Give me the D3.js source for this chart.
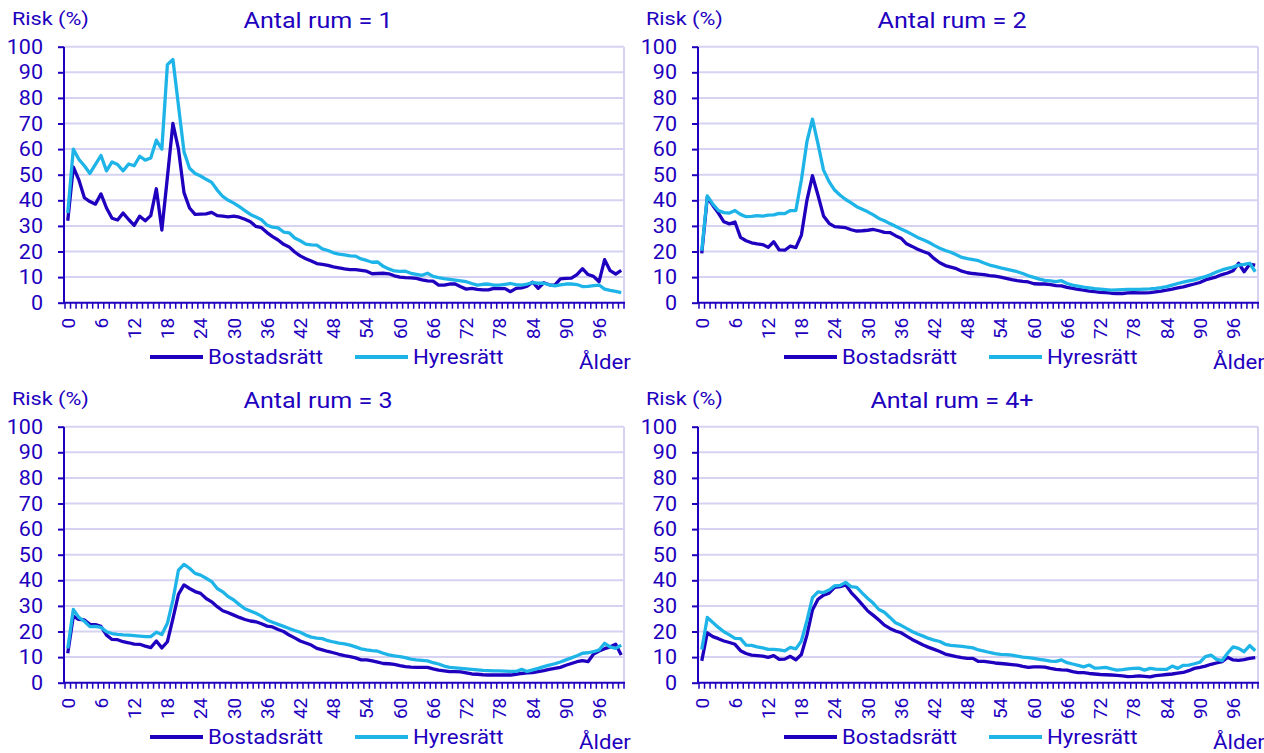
<!DOCTYPE html>
<html>
<head>
<meta charset="utf-8">
<script src="https://cdn.jsdelivr.net/npm/d3@7"></script>
<style>
  body { margin: 0; background: #fff; }
  text { font-family: Roboto, "Noto Sans", sans-serif; fill: #1e00be; }
</style>
</head>
<body>
<div id="chart"></div>
<script>
// ages 0..100
const ages = d3.range(0, 101);
const yTicks = [0, 10, 20, 30, 40, 50, 60, 70, 80, 90, 100];
const xLabels = [0, 6, 12, 18, 24, 30, 36, 42, 48, 54, 60, 66, 72, 78, 84, 90, 96];
const seriesNames = ['Bostadsrätt', 'Hyresrätt'];
const panelTitles = ['Antal rum = 1', 'Antal rum = 2', 'Antal rum = 3', 'Antal rum = 4+'];

const rum1Bostad = [32, 53, 48, 41, 39.5, 38.5, 42.5, 37, 33, 32.3, 35, 32.5, 30.2, 33.8, 32, 34, 44.5, 28.4, 49, 70,
  60, 43, 37, 34.5, 34.6, 34.7, 35.3, 34, 33.8, 33.5, 33.8, 33.4, 32.6, 31.6, 29.8, 29.3, 27.4, 25.8, 24.5, 22.8,
  21.8, 19.8, 18.3, 17.2, 16.3, 15.3, 15, 14.6, 14, 13.6, 13.2, 12.9, 12.9, 12.6, 12.3, 11.3, 11.4, 11.5, 11.3, 10.5,
  10, 9.8, 9.7, 9.5, 8.9, 8.5, 8.4, 6.9, 6.9, 7.3, 7.3, 6.2, 5.3, 5.6, 5.2, 5, 5, 5.6, 5.5, 5.5,
  4.3, 5.6, 5.8, 6.5, 8, 5.6, 7.8, 7, 6.9, 9.3, 9.5, 9.6, 11, 13.3, 11, 10.3, 8.2, 16.8, 12.5, 11.2, 12.6];
const rum1Hyres = [35, 60, 56, 53.5, 50.5, 54, 57.5, 51.5, 55, 54, 51.5, 54.2, 53.5, 57.2, 55.7, 56.5, 63.5, 60, 93, 95,
  77, 59, 52.5, 50.5, 49.5, 48.2, 47, 44, 41.5, 40, 38.9, 37.5, 36, 34.5, 33.5, 32.4, 30.3, 29.5, 29.2, 27.6,
  27.3, 25.3, 24.2, 22.9, 22.6, 22.5, 21, 20.4, 19.5, 19, 18.7, 18.3, 18.2, 17.1, 16.5, 15.8, 15.9, 14.2, 13.2, 12.4,
  12.2, 12.3, 11.5, 11.1, 10.7, 11.5, 10.3, 9.8, 9.4, 9.1, 8.8, 8.5, 8.2, 7.5, 6.9, 7.2, 7.3, 6.9, 6.9, 7.2,
  7.5, 7.1, 6.9, 7.3, 7.8, 7.6, 7.6, 7, 6.6, 7, 7.3, 7.3, 7.1, 6.3, 6.4, 6.7, 6.9, 5.3, 4.8, 4.4, 3.9];

const rum2Bostad = [19.3, 41.2, 38, 35, 31.6, 30.8, 31.5, 25.5, 24.2, 23.4, 23, 22.7, 21.6, 23.8, 20.6, 20.5, 22.1, 21.5, 26.4, 40,
  49.6, 42, 33.9, 31, 29.7, 29.5, 29.3, 28.5, 28, 28.1, 28.3, 28.6, 28.1, 27.5, 27.4, 26.2, 25.2, 23, 22, 20.9,
  20, 19.2, 17.2, 15.6, 14.5, 13.9, 13.3, 12.3, 11.7, 11.4, 11.2, 11, 10.6, 10.4, 10, 9.5, 9, 8.6, 8.3, 8.1,
  7.4, 7.3, 7.3, 7.1, 6.7, 6.6, 6, 5.6, 5.2, 4.9, 4.5, 4.3, 4, 3.9, 3.7, 3.6, 3.6, 3.8, 3.9, 3.8,
  3.8, 3.9, 4.2, 4.5, 4.9, 5.3, 5.8, 6.2, 6.8, 7.3, 7.9, 8.9, 9.5, 10.1, 11, 11.6, 12.5, 15.4, 12.1, 15, 14.7];
const rum2Hyres = [20.3, 41.7, 38.5, 36, 35.2, 35, 36, 34.5, 33.6, 33.7, 34, 33.8, 34.2, 34.3, 34.9, 34.8, 36, 36, 47.9, 62.9,
  71.7, 62, 51.8, 47.3, 44, 42, 40.3, 39, 37.5, 36.5, 35.5, 34.3, 32.9, 32, 30.9, 29.9, 28.8, 27.8, 26.7, 25.5,
  24.6, 23.6, 22.4, 21.3, 20.4, 19.7, 18.7, 17.7, 17.2, 16.8, 16.4, 15.5, 14.7, 14.2, 13.6, 13.1, 12.6, 12.1, 11.4, 10.5,
  9.9, 9.2, 8.7, 8.5, 8.2, 8.6, 7.5, 6.9, 6.5, 6.1, 5.8, 5.5, 5.3, 5.1, 4.9, 5, 5.1, 5.2, 5.2, 5.2,
  5.3, 5.4, 5.6, 5.9, 6.3, 6.9, 7.5, 8, 8.5, 8.9, 9.6, 10.2, 11, 12, 12.8, 13.4, 13.9, 14.7, 15, 15.4, 12.1];

const rum3Bostad = [11.5, 26, 24.7, 24.5, 22.8, 22.7, 22, 18.6, 16.9, 16.8, 16, 15.6, 15.1, 15, 14.3, 13.7, 16.3, 13.6, 16, 25,
  34.5, 38.2, 36.8, 35.6, 34.9, 32.9, 31.6, 29.7, 28.1, 27.3, 26.4, 25.5, 24.7, 24.1, 23.8, 23, 22.1, 21.8, 20.8, 20,
  18.6, 17.5, 16.3, 15.5, 14.7, 13.4, 12.8, 12.2, 11.7, 11.1, 10.6, 10.2, 9.7, 8.9, 8.9, 8.5, 8, 7.5, 7.4, 7.2,
  6.7, 6.3, 6.1, 6, 6, 6, 5.4, 4.9, 4.6, 4.3, 4.3, 4.2, 3.8, 3.4, 3.3, 3.1, 3, 3, 3, 3,
  3, 3.3, 3.6, 3.8, 3.9, 4.3, 4.7, 5.2, 5.6, 6, 6.8, 7.5, 8.2, 8.6, 8.2, 11.2, 12.4, 13.3, 14, 15, 10.8];
const rum3Hyres = [13.4, 28.6, 25.5, 24, 21.9, 22, 21.6, 19.9, 19.2, 18.9, 18.7, 18.6, 18.4, 18.2, 18, 18, 19.7, 18.8, 23.2, 32.3,
  44, 46.2, 44.7, 42.7, 42, 40.8, 39.5, 36.8, 35.5, 33.6, 32.3, 30.5, 28.9, 28, 27.1, 26, 24.5, 23.6, 22.8, 22,
  21.2, 20.4, 19.7, 18.6, 17.8, 17.4, 17.2, 16.4, 15.9, 15.5, 15.2, 14.7, 14, 13.2, 12.8, 12.5, 12.3, 11.5, 10.9, 10.5,
  10.2, 9.8, 9.2, 8.9, 8.7, 8.5, 7.8, 7.3, 6.5, 6, 5.8, 5.6, 5.4, 5.2, 5, 4.8, 4.7, 4.6, 4.6, 4.5,
  4.4, 4.4, 5.2, 4.4, 5, 5.6, 6.3, 6.9, 7.4, 8.1, 8.9, 9.7, 10.5, 11.5, 11.7, 12.1, 12.8, 15.4, 14, 13.4, 14.7];

const rum4Bostad = [8.5, 19.5, 18, 17.2, 16.3, 15.7, 15, 12.5, 11.4, 10.8, 10.6, 10.4, 9.9, 10.6, 9.1, 9.2, 10.3, 8.9, 11, 18.6,
  28.4, 32.6, 34.2, 35, 37.2, 37.5, 38.2, 35.2, 32.9, 30.5, 28, 26.3, 24.5, 22.5, 21.2, 20.2, 19.5, 18.2, 16.9, 15.8,
  14.7, 13.8, 13, 12.2, 11.2, 10.7, 10.2, 9.8, 9.5, 9.5, 8.3, 8.3, 8, 7.7, 7.5, 7.3, 7.1, 6.9, 6.4, 6,
  6.2, 6.2, 6.1, 5.6, 5.2, 5, 4.9, 4.3, 3.9, 3.9, 3.6, 3.4, 3.2, 3.1, 3, 2.9, 2.7, 2.4, 2.5, 2.7,
  2.5, 2.3, 2.8, 3, 3.2, 3.4, 3.7, 4, 4.7, 5.6, 6, 6.5, 7.2, 7.7, 8.2, 9.9, 8.9, 8.7, 9, 9.5, 9.8];
const rum4Hyres = [13, 25.5, 23.5, 21.6, 19.9, 18.7, 17.3, 17.2, 14.7, 14.6, 14, 13.6, 13, 13, 12.8, 12.4, 13.8, 13.2, 16.3, 24.2,
  33.2, 35.5, 35.2, 36.2, 37.8, 38, 39.2, 37.5, 37.2, 35, 32.9, 31, 28.6, 27.5, 25.5, 23.4, 22.4, 21.2, 20, 19,
  18.2, 17.3, 16.6, 16.1, 15, 14.6, 14.4, 14.2, 13.9, 13.6, 12.8, 12.3, 11.8, 11.4, 11.1, 11, 10.8, 10.4, 10, 9.8,
  9.5, 9.1, 8.8, 8.4, 8.3, 8.9, 7.8, 7.3, 6.8, 6.2, 6.9, 5.7, 5.8, 6, 5.4, 4.9, 5.1, 5.4, 5.6, 5.7,
  4.9, 5.6, 5.3, 5.2, 5.2, 6.5, 5.6, 6.8, 6.9, 7.4, 8, 10.2, 10.8, 9.1, 8.6, 11.5, 14, 13.4, 12.1, 14.5, 12.5];

const panelSeries = [
  [rum1Bostad, rum1Hyres],
  [rum2Bostad, rum2Hyres],
  [rum3Bostad, rum3Hyres],
  [rum4Bostad, rum4Hyres]
];

const width = 1264, height = 753;
const colors = ['#1e00be', '#1eb4e8'];
const axisColor = '#1e00be';
const gridColor = '#d5d3f1';
const offsets = [[0, 0], [634, 0], [0, 380], [634, 380]];
const stretch = 1.14; // labels in the source are drawn a bit wide

const svg = d3.select('#chart').append('svg')
  .attr('width', width)
  .attr('height', height);

const x = d3.scaleBand().domain(ages).range([65, 624]).padding(0);
const y = d3.scaleLinear().domain([0, 100]).range([302.7, 46.7]);
const cx = a => x(a) + x.bandwidth() / 2;

// wide text helper
function label(g, str, px, py, size, anchor) {
  return g.append('text')
    .attr('transform', 'translate(' + px + ',' + py + ') scale(' + stretch + ',1)')
    .attr('text-anchor', anchor || 'start')
    .style('font-size', size + 'px')
    .text(str);
}

panelSeries.forEach((series, p) => {
  const g = svg.append('g')
    .attr('transform', 'translate(' + offsets[p][0] + ',' + offsets[p][1] + ')');

  // grid lines
  g.selectAll('.grid')
    .data(yTicks.slice(1))
    .enter().append('line')
    .attr('x1', 65).attr('x2', 624)
    .attr('y1', d => y(d)).attr('y2', d => y(d))
    .attr('stroke', gridColor)
    .attr('stroke-width', 2);
  g.append('line')
    .attr('x1', 624).attr('x2', 624)
    .attr('y1', y(100)).attr('y2', y(0))
    .attr('stroke', gridColor)
    .attr('stroke-width', 2);

  // y axis
  const yAxis = d3.axisLeft(y).tickValues(yTicks).tickSize(6).tickPadding(0);
  const ya = g.append('g')
    .attr('transform', 'translate(64,0)')
    .call(yAxis);
  ya.select('.domain').attr('stroke', axisColor).attr('stroke-width', 2)
    .attr('d', 'M0,' + y(100) + 'V' + y(0));
  ya.selectAll('.tick line').attr('stroke', axisColor).attr('stroke-width', 2);
  ya.selectAll('.tick text')
    .attr('x', -21 / 1.05)
    .attr('transform', 'scale(1.05,1)')
    .style('font-size', '20.5px')
    .attr('fill', axisColor);

  // x axis: ticks on band boundaries, labels every 6 years
  g.append('line')
    .attr('x1', 64).attr('x2', 625)
    .attr('y1', y(0)).attr('y2', y(0))
    .attr('stroke', axisColor).attr('stroke-width', 2);
  g.selectAll('.xtick')
    .data(ages.concat([101]))
    .enter().append('line')
    .attr('x1', d => d === 101 ? x(100) + x.bandwidth() : x(d))
    .attr('x2', d => d === 101 ? x(100) + x.bandwidth() : x(d))
    .attr('y1', y(0)).attr('y2', y(0) + 6)
    .attr('stroke', axisColor).attr('stroke-width', 1.5);
  g.selectAll('.xlabel')
    .data(xLabels)
    .enter().append('text')
    .attr('transform', d => 'translate(' + cx(d) + ',' + (y(0) + 15) + ') rotate(-90)')
    .attr('dy', '0.36em')
    .attr('text-anchor', 'end')
    .style('font-size', '19px')
    .text(d => d);

  // lines
  const line = d3.line()
    .x((d, i) => cx(ages[i]))
    .y(d => y(d));
  series.forEach((values, s) => {
    g.append('path')
      .datum(values)
      .attr('fill', 'none')
      .attr('stroke', colors[s])
      .attr('stroke-width', 3.3)
      .attr('stroke-linejoin', 'round')
      .attr('d', line);
  });

  // titles
  label(g, panelTitles[p], 318, 28, 22, 'middle');
  label(g, 'Risk (%)', 12, 25, 19);
  label(g, 'Ålder', 579, 369, 19.5);

  // legend
  const legendX = [150, 355];
  seriesNames.forEach((name, s) => {
    g.append('line')
      .attr('x1', legendX[s]).attr('x2', legendX[s] + 53)
      .attr('y1', 357).attr('y2', 357)
      .attr('stroke', colors[s])
      .attr('stroke-width', 4);
    label(g, name, legendX[s] + 58, 364, 19.5);
  });
});
</script>
</body>
</html>
